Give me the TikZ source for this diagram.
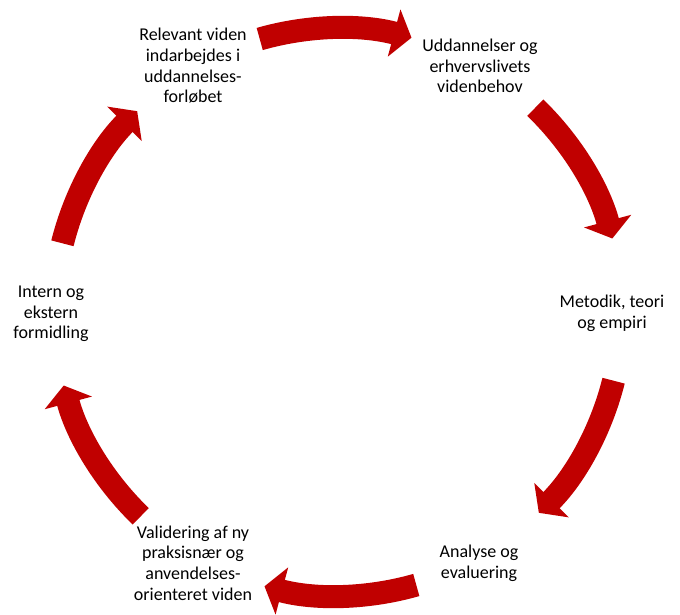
\documentclass[tikz,border=0pt]{standalone}
\usepackage{fontspec}
\setmainfont{Carlito}
\usetikzlibrary{arrows.meta}
\definecolor{cyclered}{HTML}{C00000}
\tikzset{
  lbl/.style={align=center, text=black, font=\fontsize{18}{20.7}\selectfont, inner sep=0pt},
  cyc/.style={draw=cyclered, line width=23pt, line cap=butt, -{Triangle[width=48pt,length=18pt]}}
}
\begin{document}
\begin{tikzpicture}[x=1pt,y=1pt]
\useasboundingbox (0,0) rectangle (680,614);
\coordinate (C) at (338,302);
\node[lbl] (n1) at (193,548) {Relevant viden\\indarbejdes i\\uddannelses-\\forløbet};
\node[lbl] (n2) at (480,548) {Uddannelser og\\erhvervslivets\\videnbehov};
\node[lbl] (n3) at (612,301) {Metodik, teori\\og empiri};
\node[lbl] (n4) at (479,51) {Analyse og\\evaluering};
\node[lbl] (n5) at (193,51) {Validering af ny\\praksisnær og\\anvendelses-\\orienteret viden};
\node[lbl] (n6) at (51,300) {Intern og\\ekstern\\formidling};
\foreach \m in {90,30,-30,-90,-150,150}{
  \draw[cyc] (C) ++(\m+16:284) arc[start angle=\m+16, end angle=\m-15, radius=284];
}
\end{tikzpicture}
\end{document}
